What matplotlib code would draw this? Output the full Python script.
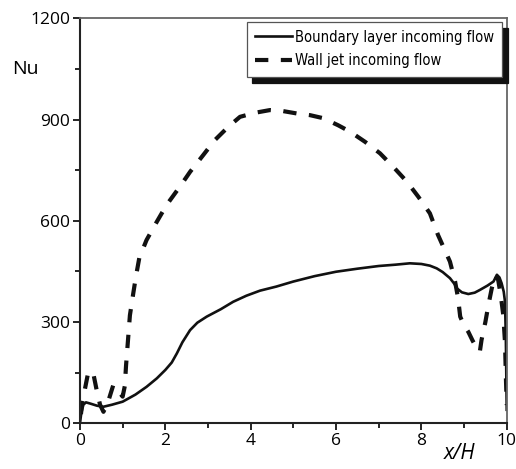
import matplotlib.pyplot as plt
from matplotlib.lines import Line2D
from matplotlib.ticker import MultipleLocator
from matplotlib.font_manager import FontProperties

# Nusselt number along the wall, x/H from 0 to 10
bl_x = [0.0, 0.03, 0.08, 0.14, 0.25, 0.4, 0.55, 0.75, 1.0, 1.3, 1.56, 1.8, 2.0, 2.15,
        2.27, 2.4, 2.58, 2.75, 2.97, 3.3, 3.59, 3.9, 4.22, 4.6, 5.0, 5.5, 6.0, 6.5,
        7.0, 7.4, 7.73, 8.0, 8.2, 8.36, 8.5, 8.67, 8.78, 8.83, 8.95, 9.1, 9.25, 9.37,
        9.55, 9.69, 9.77, 9.83, 9.88, 9.93, 9.96, 9.98, 10.0]
bl_nu = [0, 30, 55, 62, 58, 52, 49, 55, 64, 85, 108, 133, 158, 180,
         207, 240, 276, 298, 316, 338, 360, 378, 393, 405, 420, 436, 449, 458,
         466, 470, 474, 472, 467, 459, 448, 430, 412, 400, 388, 383, 387, 395,
         408, 420, 440, 432, 415, 390, 360, 250, 40]

wj_x = [0.0, 0.05, 0.12, 0.19, 0.25, 0.31, 0.39, 0.47, 0.55, 0.65, 0.78, 0.9, 1.0,
        1.05, 1.08, 1.17, 1.25, 1.31, 1.39, 1.56, 1.8, 2.03, 2.34, 2.58, 2.89, 3.16,
        3.48, 3.75, 4.1, 4.45, 4.76, 5.08, 5.39, 5.7, 6.05, 6.33, 6.68, 7.03, 7.34,
        7.66, 7.93, 8.2, 8.39, 8.67, 8.79, 8.86, 8.91, 9.0, 9.1, 9.2, 9.3, 9.37,
        9.41, 9.5, 9.57, 9.65, 9.73, 9.8, 9.86, 9.92, 9.96, 9.98, 10.0]
wj_nu = [0, 60, 104, 149, 155, 149, 99, 55, 34, 60, 113, 95, 79,
         110, 172, 320, 386, 434, 490, 543, 597, 647, 701, 745, 795, 839,
         879, 908, 920, 928, 925, 918, 913, 904, 883, 864, 834, 800, 760,
         716, 671, 622, 558, 479, 420, 371, 316, 290, 271, 245, 222, 212,
         247, 300, 350, 400, 438, 425, 380, 320, 240, 140, 54]

labels = ['Boundary layer incoming flow', 'Wall jet incoming flow']

plt.rcParams['font.family'] = ['Open Sans', 'DejaVu Sans']

fig = plt.figure(figsize=(5.16, 4.69), dpi=100)
ax = fig.add_axes([0.155, 0.0975, 0.827, 0.8635])

ax.plot(bl_x, bl_nu, color='#111111', lw=1.9, solid_joinstyle='round')
ax.plot(wj_x, wj_nu, color='#111111', lw=3.0, linestyle=(4.0, (3.2, 3.0)))

ax.set_xlim(0, 10)
ax.set_ylim(0, 1200)
ax.xaxis.set_major_locator(MultipleLocator(2))
ax.xaxis.set_minor_locator(MultipleLocator(1))
ax.yaxis.set_major_locator(MultipleLocator(300))
ax.yaxis.set_minor_locator(MultipleLocator(150))
ax.tick_params(which='both', direction='out', width=1.2, labelsize=12.5,
               top=False, right=False, pad=2)
ax.tick_params(which='major', length=5)
ax.tick_params(which='minor', length=3.5)

for side in ['left', 'bottom']:
    ax.spines[side].set_linewidth(1.5)
    ax.spines[side].set_color('#222222')
for side in ['top', 'right']:
    ax.spines[side].set_linewidth(1.3)
    ax.spines[side].set_color('#666666')

ax.text(-0.16, 0.875, 'Nu', transform=ax.transAxes, fontsize=14, ha='left', va='center')
ax.text(0.89, -0.074, 'x/H', transform=ax.transAxes, fontsize=15, style='italic',
        ha='center', va='center')

# legend handles drawn without the dash offset used on the curve
handles = [Line2D([], [], color='#111111', lw=1.9),
           Line2D([], [], color='#111111', lw=3.0, dashes=(3.2, 3.0))]

# condensed legend text with a solid black drop shadow
leg_font = FontProperties(family=['DejaVu Sans'], stretch='condensed', size=10.6)
leg = ax.legend(handles, labels, loc='upper right', bbox_to_anchor=(0.99, 0.992),
                prop=leg_font, handlelength=2.55, handletextpad=0.2, borderpad=0.55,
                labelspacing=0.6, borderaxespad=0.0, fancybox=False, framealpha=1,
                shadow={'ox': 4, 'oy': -4.5, 'facecolor': '#111111',
                        'edgecolor': '#111111', 'alpha': 1})
leg.get_frame().set_edgecolor('#555555')
leg.get_frame().set_linewidth(0.9)

fig.savefig('out.png', dpi=100)
